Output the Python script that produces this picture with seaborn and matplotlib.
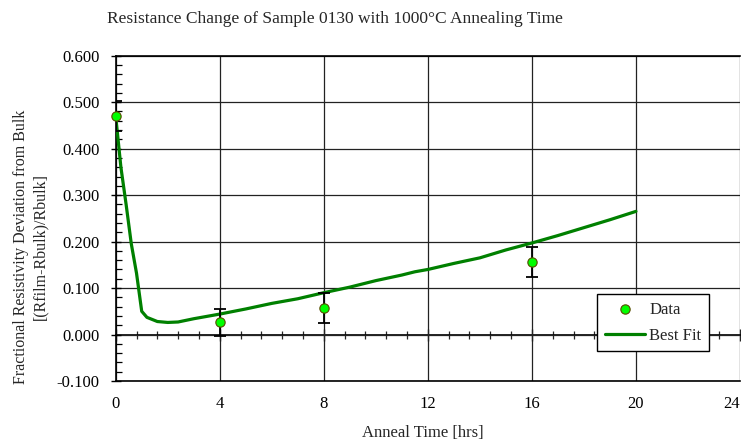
import matplotlib
matplotlib.use("Agg")
import matplotlib.pyplot as plt
import matplotlib.ticker as mticker
import numpy as np
import pandas as pd
import seaborn as sns

# ---- data ----
data_time = [0, 4, 8, 16]
data_value = [0.470, 0.026, 0.057, 0.156]
data_err = [0.032, 0.030, 0.032, 0.033]

fit_time = [0, 0.2, 0.4, 0.6, 0.8, 1.0, 1.2, 1.6, 2.0, 2.4, 3.0, 4.0, 5.0, 6.0, 7.0,
            8.0, 9.0, 10.0, 11.0, 11.5, 12.0, 13.0, 14.0, 15.0, 16.0, 17.0, 18.0, 19.0, 20.0]
fit_value = [0.470, 0.360, 0.280, 0.195, 0.132, 0.050, 0.037, 0.028, 0.026, 0.027, 0.034,
             0.044, 0.055, 0.067, 0.077, 0.090, 0.102, 0.116, 0.128, 0.135, 0.140, 0.153,
             0.165, 0.182, 0.197, 0.213, 0.230, 0.247, 0.265]

x_ticks = [0, 4, 8, 12, 16, 20, 24]

title = "Resistance Change of Sample 0130 with 1000\u00b0C Annealing Time"
xlabel = "Anneal Time [hrs]"
ylabel = "Fractional Resistivity Deviation from Bulk\n[(Rfilm-Rbulk)/Rbulk]"

sns.set_theme(style="white")
plt.rcParams["font.family"] = ["Liberation Serif", "DejaVu Serif"]

fig = plt.figure(figsize=(7.41, 4.44), dpi=100)
ax = fig.add_axes([115.7 / 741, 1 - 381 / 444, (740 - 115.7) / 741, (381 - 55.7) / 444])

df_fit = pd.DataFrame({"t": fit_time, "v": fit_value})
df_dat = pd.DataFrame({"t": data_time, "v": data_value, "e": data_err})

sns.lineplot(data=df_fit, x="t", y="v", ax=ax, color="#008000", linewidth=2.3,
             label="Best Fit", zorder=3)
ax.errorbar(df_dat["t"], df_dat["v"], yerr=df_dat["e"], fmt="none", ecolor="black",
            elinewidth=1.3, capsize=4, capthick=1.3, zorder=4)
sns.scatterplot(data=df_dat, x="t", y="v", ax=ax, color="#00ff00", edgecolor="#5a4a00",
                linewidth=0.8, s=45, label="Data", zorder=5, clip_on=False)

ax.set_xlim(0, 24)
ax.set_ylim(-0.1, 0.6)
ax.set_xticks(x_ticks)
ax.set_xticklabels([str(t) for t in x_ticks])
ax.yaxis.set_major_locator(mticker.MultipleLocator(0.1))
ax.yaxis.set_minor_locator(mticker.MultipleLocator(0.02))
ax.yaxis.set_major_formatter(mticker.FuncFormatter(lambda v, p: f"{round(v, 3) + 0.0:.3f}"))
ax.grid(True, which="major", color="#222222", linewidth=0.9)
ax.set_axisbelow(True)

for s in ["left", "bottom", "top"]:
    ax.spines[s].set_color("black")
    ax.spines[s].set_linewidth(1.2)
ax.spines["right"].set_visible(False)

ax.tick_params(axis="x", which="both", length=0, pad=11, labelsize=12, colors="black")
ax.tick_params(axis="y", which="major", direction="inout", length=7, width=1, pad=8,
               labelsize=12, colors="black", left=True)
ax.tick_params(axis="y", which="minor", direction="in", length=4, width=0.9, left=True,
               colors="black")

# tick marks along the zero line
sec = ax.secondary_xaxis(1 / 7)
sec.xaxis.set_major_locator(mticker.MultipleLocator(4))
sec.xaxis.set_minor_locator(mticker.MultipleLocator(0.8))
sec.tick_params(axis="x", which="major", direction="inout", length=8, width=1,
                labelbottom=False, labeltop=False, bottom=True)
sec.tick_params(axis="x", which="minor", direction="inout", length=6, width=0.9,
                bottom=True)
sec.set_xticklabels([])
sec.spines["bottom"].set_color("black")
sec.spines["bottom"].set_linewidth(1.2)

ax.set_xlabel("")
ax.set_ylabel("")
fig.text(423 / 741, 1 - 433 / 444, xlabel, ha="center", va="center", fontsize=12)
fig.text(31 / 741, 1 - 247 / 444, ylabel, ha="center", va="center", rotation=90,
         fontsize=11.5, multialignment="center", linespacing=1.25)
fig.text(335 / 741, 1 - 19 / 444, title, ha="center", va="center", fontsize=12.5)

handles, labels = ax.get_legend_handles_labels()
order = [labels.index("Data"), labels.index("Best Fit")]
leg = ax.legend([handles[i] for i in order], [labels[i] for i in order],
                loc="lower right", bbox_to_anchor=(0.950, 0.092), borderaxespad=0,
                frameon=True, fancybox=False, edgecolor="black", framealpha=1,
                fontsize=12, handlelength=2.4, handletextpad=0.25, borderpad=0.45,
                labelspacing=0.6)
leg.get_frame().set_linewidth(1.0)

# last tick label hugs the right edge, as in the reference
fig.canvas.draw()
ax.get_xticklabels()[-1].set_horizontalalignment("right")

fig.savefig("out.png", dpi=100)
